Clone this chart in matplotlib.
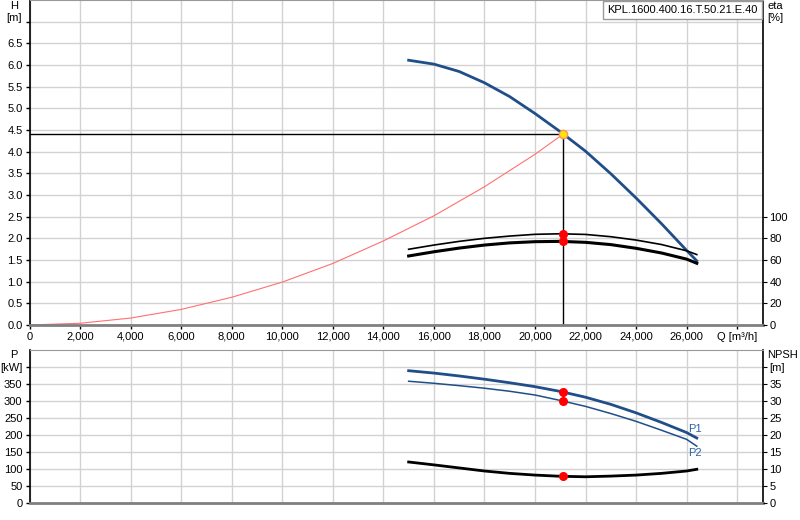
import matplotlib
matplotlib.use("Agg")
import matplotlib.pyplot as plt

plt.rcParams["font.family"] = ["Liberation Sans", "DejaVu Sans"]
plt.rcParams["font.size"] = 8

# operating point
q_op = 21100
h_op = 4.40

# pump head curve
q_head = [15000, 16000, 17000, 18000, 19000, 20000, 21000, 22000, 23000, 24000, 25000, 26000, 26400]
h_head = [6.11, 6.02, 5.85, 5.59, 5.27, 4.88, 4.46, 4.01, 3.49, 2.93, 2.34, 1.72, 1.48]

# system curve
q_sys = [0, 2000, 4000, 6000, 8000, 10000, 12000, 14000, 16000, 18000, 20000, 21100]
h_sys = [0, 0.04, 0.16, 0.36, 0.64, 0.99, 1.42, 1.94, 2.52, 3.19, 3.94, 4.40]

# efficiency curves
q_eta = [15000, 16000, 17000, 18000, 19000, 20000, 21000, 22000, 23000, 24000, 25000, 26000, 26400]
eta_1 = [69.9, 73.8, 77.2, 80.0, 82.1, 83.7, 84.2, 83.6, 81.5, 78.4, 74.3, 68.5, 65.0]
eta_2 = [63.7, 67.6, 71.0, 73.8, 75.8, 76.9, 77.2, 76.3, 74.2, 70.8, 66.5, 60.8, 57.0]
eta_op = [84.2, 77.2]

# power and NPSH
q_p = [15000, 16000, 17000, 18000, 19000, 20000, 21000, 22000, 23000, 24000, 25000, 26000, 26400]
p1 = [390, 383, 374.5, 365, 354.5, 343, 329, 312, 291, 266, 238, 208, 192]
p2 = [359, 353, 346, 338.5, 329.5, 318.5, 302.5, 285, 264, 241, 215, 188, 168]
npsh = [12.15, 11.3, 10.4, 9.5, 8.8, 8.3, 7.95, 7.8, 8.0, 8.3, 8.8, 9.5, 10.0]
p_op = [327, 300.5]
npsh_op = 7.9

q_ticks = list(range(0, 30000, 2000))
q_labels = [f"{q:,}" for q in q_ticks[:-1]] + ["Q [m³/h]"]

blue = "#1f4e89"
grid_c = "#d2d2d2"

fig = plt.figure(figsize=(8, 5.2), dpi=100)
ax = fig.add_axes([29.5 / 800, 0.375, 733 / 800, 0.625])
ax_p = fig.add_axes([29.5 / 800, 16.7 / 520, 733 / 800, 153 / 520])


def style(a):
    a.set_xlim(0, 29000)
    a.set_xticks(q_ticks)
    a.grid(True, color=grid_c, lw=1)
    a.set_axisbelow(True)
    a.spines["top"].set_color("#999999")
    a.spines["bottom"].set_color("#808080")
    a.spines["bottom"].set_linewidth(2)
    a.spines["left"].set_linewidth(1.2)
    a.spines["right"].set_linewidth(1.2)
    a.tick_params(length=3, width=1, pad=2)


# --- top: head ---
style(ax)
ax.set_ylim(0, 7.5)
ax.set_yticks([i * 0.5 for i in range(15)])
ax.set_yticklabels([f"{i * 0.5:.1f}" for i in range(14)] + [""])
ax.set_xticklabels(q_labels)

ax.plot(q_sys, h_sys, color="#ff7070", lw=0.8)
ax.plot(q_head, h_head, color=blue, lw=2)
ax.plot([0, q_op], [h_op, h_op], color="black", lw=1)
ax.plot([q_op, q_op], [0, h_op], color="black", lw=1)
ax.plot([q_op], [h_op], "o", ms=6, mfc="#ffe600", mec="#ff9060", mew=1)

ax_eta = ax.twinx()
ax_eta.set_ylim(0, 300)
ax_eta.set_yticks(range(0, 101, 20))
ax_eta.tick_params(length=3, pad=2)
ax_eta.plot(q_eta, eta_1, color="black", lw=1.2)
ax_eta.plot(q_eta, eta_2, color="black", lw=2.2)
ax_eta.plot([q_op, q_op], eta_op, "o", color="red", ms=5.5, ls="none")
for s in ax_eta.spines.values():
    s.set_visible(False)

ax.annotate("KPL.1600.400.16.T.50.21.E.40", xy=(1.0, 1.0), xycoords="axes fraction",
            xytext=(-3.5, -3.5), textcoords="offset points",
            ha="right", va="top", zorder=10,
            bbox=dict(facecolor="white", edgecolor="#999999", boxstyle="square,pad=0.35"))

fig.text(14 / 800, 1 - 6 / 520, "H", ha="center", va="center")
fig.text(14 / 800, 1 - 18 / 520, "[m]", ha="center", va="center")
fig.text(767 / 800, 1 - 6 / 520, "eta", ha="left", va="center")
fig.text(767 / 800, 1 - 18 / 520, "[%]", ha="left", va="center")

# --- bottom: power / NPSH ---
style(ax_p)
ax_p.set_ylim(0, 450)
ax_p.set_yticks(range(0, 401, 50))
ax_p.set_yticklabels([str(v) for v in range(0, 351, 50)] + ["[kW]"])
ax_p.set_xticklabels([])
ax_p.tick_params(axis="x", length=0)

ax_p.plot(q_p, p1, color=blue, lw=2)
ax_p.plot(q_p, p2, color=blue, lw=1.1)
ax_p.plot([q_op, q_op], p_op, "o", color="red", ms=5.5, ls="none")
ax_p.text(26330, 218, "P1", color="#2a63a3", ha="center", va="center")
ax_p.text(26330, 149, "P2", color="#2a63a3", ha="center", va="center")

ax_n = ax_p.twinx()
ax_n.set_ylim(0, 45)
ax_n.set_yticks(range(0, 41, 5))
ax_n.set_yticklabels([str(v) for v in range(0, 36, 5)] + ["[m]"])
ax_n.tick_params(length=3, pad=2)
ax_n.plot(q_p, npsh, color="black", lw=2)
ax_n.plot([q_op], [npsh_op], "o", color="red", ms=5.5)
for s in ax_n.spines.values():
    s.set_visible(False)

fig.text(14 / 800, 1 - 355 / 520, "P", ha="center", va="center")
fig.text(767 / 800, 1 - 355 / 520, "NPSH", ha="left", va="center")

fig.savefig("out.png", dpi=100)
